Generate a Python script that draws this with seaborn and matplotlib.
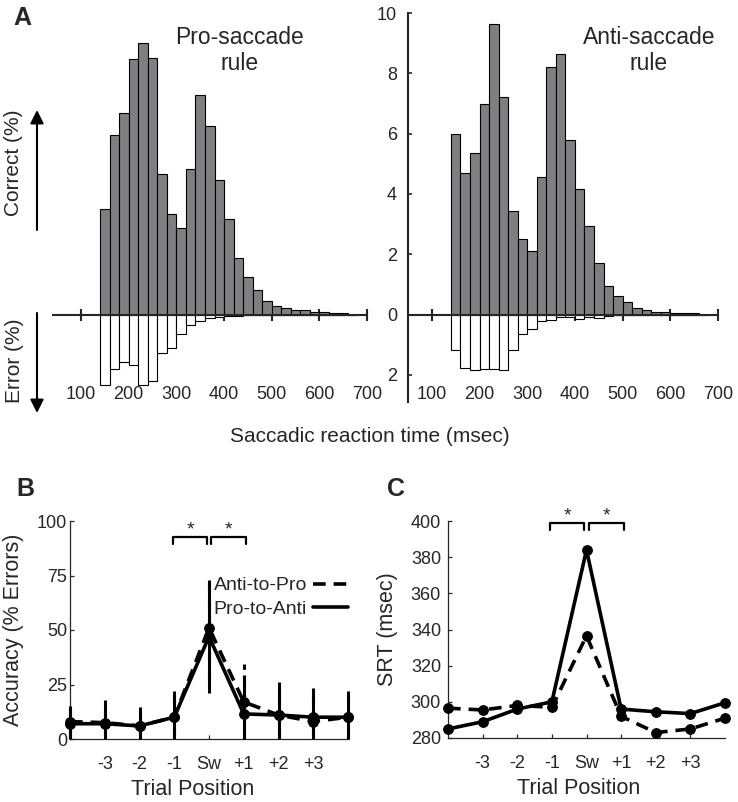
import numpy as np
import pandas as pd
import seaborn as sns
import matplotlib.pyplot as plt
from matplotlib.lines import Line2D

# ---- data ----
bin_edges = list(range(140, 681, 20))
pro_correct = [3.5, 5.95, 6.7, 8.47, 9.0, 8.52, 4.66, 3.33, 2.86, 4.82, 7.27, 6.26, 4.46,
               3.17, 1.88, 1.23, 0.81, 0.45, 0.30, 0.22, 0.14, 0.14, 0.10, 0.08, 0.05, 0.05, 0.0]
pro_error = [2.32, 1.79, 1.57, 1.68, 2.32, 2.2, 1.27, 1.12, 0.63, 0.36, 0.22, 0.13, 0.08,
             0.05, 0.04, 0.03, 0.02, 0.02, 0.01, 0.01, 0.01, 0.01, 0.01, 0.0, 0.0, 0.0, 0.0]
anti_correct = [6.0, 4.71, 5.36, 6.98, 9.65, 7.23, 3.45, 2.50, 2.10, 4.55, 8.20, 8.65, 5.78,
                4.17, 2.94, 1.70, 0.94, 0.62, 0.40, 0.22, 0.15, 0.08, 0.10, 0.06, 0.04, 0.04, 0.0]
anti_error = [1.18, 1.77, 1.84, 1.80, 1.82, 1.84, 1.18, 0.64, 0.49, 0.21, 0.19, 0.08, 0.08,
              0.14, 0.08, 0.10, 0.04, 0.03, 0.02, 0.02, 0.01, 0.01, 0.01, 0.01, 0.0, 0.0, 0.0]

positions = [-4, -3, -2, -1, 0, 1, 2, 3, 4]
pos_ticks = [-3, -2, -1, 0, 1, 2, 3]
pos_labels = ['-3', '-2', '-1', 'Sw', '+1', '+2', '+3']

acc_pro_to_anti = [7, 7, 6, 10, 47, 11.5, 11, 10, 10]
acc_pro_to_anti_err = [8, 11, 8.5, 12, 26, 18, 15, 13.4, 12]
acc_anti_to_pro = [8, 7.5, 6, 10, 51, 17, 11, 8, 10]
acc_anti_to_pro_err = [7, 8, 7, 10, 24, 17.5, 12, 12, 10]

srt_pro_to_anti = [285, 289, 296, 300, 384, 296, 294.5, 293.5, 299.5]
srt_anti_to_pro = [296.5, 295.5, 298, 297, 336.5, 292, 283, 285, 291]

sns.set_style('white')
plt.rcParams['font.family'] = ['Liberation Sans', 'DejaVu Sans']

W, H = 738, 802
fig = plt.figure(figsize=(W / 100, H / 100), dpi=100)


def px_axes(x0, y0, x1, y1):
    return fig.add_axes([x0 / W, 1 - y1 / H, (x1 - x0) / W, (y1 - y0) / H])


def ftext(x, y, s, **kw):
    fig.text(x / W, 1 - y / H, s, **kw)


gray = '#7f7f82'
centers = [(a + b) / 2 for a, b in zip(bin_edges[:-1], bin_edges[1:])]


def histo_panel(ax, correct, error, xlim, show_y):
    df = pd.DataFrame({'rt': centers, 'correct': correct,
                       'error': [-v for v in error]})
    sns.histplot(data=df, x='rt', weights='correct', bins=bin_edges, ax=ax, color=gray,
                 edgecolor='black', linewidth=0.8, alpha=1)
    sns.histplot(data=df, x='rt', weights='error', bins=bin_edges, ax=ax, color='white',
                 edgecolor='black', linewidth=0.8, alpha=1)
    ax.set_xlim(*xlim)
    ax.set_ylim(-2.9, 10)
    ax.set_xlabel('')
    ax.set_ylabel('')
    ax.spines['top'].set_visible(False)
    ax.spines['right'].set_visible(False)
    ax.spines['bottom'].set_position(('data', 0))
    ax.spines['bottom'].set_linewidth(1.5)
    ax.spines['bottom'].set_zorder(5)
    ax.set_xticks(range(100, 701, 100))
    ax.tick_params(axis='x', direction='inout', length=8, width=1.5, labelbottom=False,
                   bottom=True)
    for t in range(100, 701, 100):
        ax.text(t, -2.65, str(t), ha='center', va='center', fontsize=13)
    if show_y:
        ax.spines['left'].set_linewidth(1.5)
        ax.set_yticks([10, 8, 6, 4, 2, 0, -2])
        ax.set_yticklabels(['10', '8', '6', '4', '2', '0', '2'])
        ax.tick_params(axis='y', direction='in', length=3, width=1.2, pad=8, labelsize=13, left=True)
    else:
        ax.spines['left'].set_visible(False)
        ax.set_yticks([])


ax_pro = px_axes(52.5, 13, 367, 402)
histo_panel(ax_pro, pro_correct, pro_error, (40, 700), False)
ax_pro.text(433, 8.75, 'Pro-saccade\nrule', ha='center', va='center', fontsize=16.5)

ax_anti = px_axes(408, 13, 718, 402)
histo_panel(ax_anti, anti_correct, anti_error, (50, 700), True)
ax_anti.text(555, 8.75, 'Anti-saccade\nrule', ha='center', va='center', fontsize=16.5)

ftext(22, 18, 'A', fontsize=18, fontweight='bold', ha='center', va='center')
ftext(370, 437, 'Saccadic reaction time (msec)', fontsize=15, ha='center', va='center')
ftext(14, 163, 'Correct (%)', fontsize=15, rotation=90, ha='center', va='center')
ftext(14, 361, 'Error (%)', fontsize=15, rotation=90, ha='center', va='center')
arrow = dict(arrowstyle='-|>', lw=1.5, color='black', mutation_scale=20, shrinkA=0, shrinkB=0)
fig.add_artist(plt.Annotation('', xy=(37 / W, 1 - 110 / H), xytext=(37 / W, 1 - 230 / H),
                              xycoords='figure fraction', arrowprops=arrow))
fig.add_artist(plt.Annotation('', xy=(37 / W, 1 - 413 / H), xytext=(37 / W, 1 - 313 / H),
                              xycoords='figure fraction', arrowprops=arrow))

dash = (0, (3.5, 2.2))


def trial_axes(ax):
    ax.set_xlim(-4, 4)
    ax.set_xticks(pos_ticks)
    ax.set_xticklabels(pos_labels)
    ax.spines['top'].set_visible(False)
    ax.spines['right'].set_visible(False)
    for s in ['left', 'bottom']:
        ax.spines[s].set_linewidth(0.9)
    ax.tick_params(direction='in', length=3, width=0.9, labelsize=13, left=True, bottom=True)
    ax.tick_params(axis='x', pad=12)
    ax.set_xlabel('Trial Position', fontsize=15.5)


def bracket(ax, x0, x1, y_low, y_high, star_y):
    ax.plot([x0, x0, x1, x1], [y_low, y_high, y_high, y_low], color='black', lw=1.6,
            clip_on=False)
    ax.text((x0 + x1) / 2, star_y, '*', ha='center', va='center', fontsize=14)


# ---- B: accuracy ----
ax_b = px_axes(70, 521, 348, 739)
v = np.array(acc_anti_to_pro)
e = np.array(acc_anti_to_pro_err)
eb = ax_b.errorbar(positions, v, yerr=[np.minimum(e, v), e], fmt='none', ecolor='black',
                   elinewidth=2.2, clip_on=False, zorder=2)
eb[2][0].set_linestyle(dash)
v = np.array(acc_pro_to_anti)
e = np.array(acc_pro_to_anti_err)
ax_b.errorbar(positions, v, yerr=[np.minimum(e, v), e], fmt='none', ecolor='black',
              elinewidth=2.2, clip_on=False, zorder=3)
sns.lineplot(x=positions, y=acc_anti_to_pro, ax=ax_b, color='black', lw=2.6, linestyle=dash,
             marker='o', markersize=7, markeredgecolor='black', clip_on=False, zorder=4)
sns.lineplot(x=positions, y=acc_pro_to_anti, ax=ax_b, color='black', lw=2.6,
             marker='o', markersize=7, markeredgecolor='black', clip_on=False, zorder=5)
ax_b.set_ylim(0, 100)
ax_b.set_yticks([0, 25, 50, 75, 100])
trial_axes(ax_b)
ax_b.tick_params(axis='y', pad=2)
ax_b.set_ylabel('Accuracy (% Errors)', fontsize=15.5)
ax_b.yaxis.set_label_coords(-0.165, 0.5)
ax_b.xaxis.set_label_coords(0.44, -0.185)
bracket(ax_b, -1.03, -0.06, 89.5, 92.5, 96)
bracket(ax_b, 0.07, 1.06, 89.5, 92.5, 96)
handles = [Line2D([], [], color='black', lw=2.6, linestyle=dash),
           Line2D([], [], color='black', lw=2.6)]
ax_b.legend(handles, ['Anti-to-Pro', 'Pro-to-Anti'], loc='center right', bbox_to_anchor=(1.0, 0.65),
            frameon=False, markerfirst=False, fontsize=14, handlelength=1.8, handletextpad=0.3,
            labelspacing=0.3, borderpad=0, borderaxespad=0)
ftext(25, 489, 'B', fontsize=18, fontweight='bold', ha='center', va='center')

# ---- C: saccadic reaction time ----
ax_c = px_axes(448, 521, 725, 738)
sns.lineplot(x=positions, y=srt_anti_to_pro, ax=ax_c, color='black', lw=2.6, linestyle=dash,
             marker='o', markersize=7, markeredgecolor='black', clip_on=False, zorder=4)
sns.lineplot(x=positions, y=srt_pro_to_anti, ax=ax_c, color='black', lw=2.6,
             marker='o', markersize=7, markeredgecolor='black', clip_on=False, zorder=5)
ax_c.set_ylim(280, 400)
ax_c.set_yticks(range(280, 401, 20))
trial_axes(ax_c)
ax_c.tick_params(axis='y', pad=5)
ax_c.set_ylabel('SRT (msec)', fontsize=15.5)
ax_c.yaxis.set_label_coords(-0.18, 0.5)
ax_c.xaxis.set_label_coords(0.47, -0.185)
bracket(ax_c, -1.05, -0.07, 395, 398.7, 402.8)
bracket(ax_c, 0.06, 1.07, 395, 398.7, 402.8)
ftext(396, 489, 'C', fontsize=18, fontweight='bold', ha='center', va='center')

fig.savefig('out.png', dpi=100)
